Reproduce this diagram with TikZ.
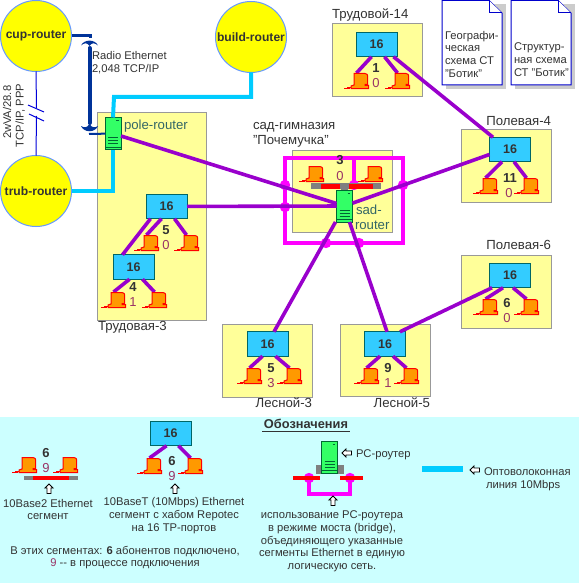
\documentclass[tikz,border=0pt]{standalone}
\usepackage{fontspec}
\setmainfont{Liberation Sans}
\definecolor{yel}{HTML}{FFFF99}
\definecolor{circ}{HTML}{FFFF00}
\definecolor{circline}{HTML}{6699FF}
\definecolor{frame}{HTML}{999999}
\definecolor{hubfill}{HTML}{33CCFF}
\definecolor{hubline}{HTML}{006666}
\definecolor{purp}{HTML}{9900CC}
\definecolor{magent}{HTML}{FF00FF}
\definecolor{cyanl}{HTML}{00CCFF}
\definecolor{radio}{HTML}{003399}
\definecolor{rout}{HTML}{33FF66}
\definecolor{routl}{HTML}{006633}
\definecolor{pcor}{HTML}{FF9900}
\definecolor{txt}{HTML}{333333}
\definecolor{teal2}{HTML}{336666}
\definecolor{wine}{HTML}{993366}
\definecolor{legend}{HTML}{CCFFFF}
\definecolor{gr}{HTML}{808080}
\newcommand{\fsn}{\fontsize{11.2}{12.7}\selectfont}
\tikzset{
  every node/.style={inner sep=0pt,outer sep=0pt},
  lbl/.style={text=txt,font=\fsn,text height=8pt,text depth=2pt},
  big/.style={lbl,font=\fontsize{13.2}{15}\selectfont},
  lblc/.style={text=txt,font=\fsn,align=center},
  rlabel/.style={lbl,text=teal2,font=\fontsize{13.2}{15}\selectfont},
  area/.style={draw=frame,fill=yel,line width=1pt},
  rcircle/.style={circle,draw=circline,fill=circ,line width=1pt,minimum size=71pt,font=\bfseries\fontsize{12.1}{14}\selectfont,text=txt},
  hubbox/.style={draw=hubline,fill=hubfill,line width=1pt,minimum width=41pt,minimum height=24.5pt,font=\bfseries\fontsize{12.5}{14}\selectfont,text=txt},
  routerbox/.style={draw=routl,fill=rout,line width=1pt,minimum width=16pt,minimum height=32pt},
  pcbox/.style={minimum width=25pt,minimum height=16pt},
  net/.style={draw=purp,line width=3.6pt},
  fiber/.style={draw=cyanl,line width=4pt},
  bridge/.style={draw=magent,line width=4pt},
  junction/.style={fill=magent},
  nA/.style={text=txt,font=\bfseries\fontsize{13}{15}\selectfont},
  nB/.style={text=wine,font=\fontsize{13}{15}\selectfont},
  docpage/.style={draw=blue!80!black,fill=white,line width=1pt},
  arrowup/.style={draw=black,fill=white,line width=.9pt},
}
% PC anchor node: name, left, top
\newcommand{\pcat}[3]{\node[pcbox] (#1) at (#2+12.5,#3+8) {};}
% PC icon: left, top
\newcommand{\pcicon}[2]{%
  \begin{scope}[shift={(#1,#2)}]
    \draw[red,line width=1pt] (0,15.5) -- (6,15.5) (3,14.5) -- (7,14.5);
    \draw[red,line width=1pt,fill=pcor] (7,15.7) -- (7,13) -- (10,12) -- (10,.5) -- (21,.5) .. controls (23,.5) and (23.7,2) .. (23.7,3) -- (23.7,11.5) -- (21,11.5) -- (21,12.5) -- (24.7,12.5) -- (24.7,15.7) -- cycle;
  \end{scope}}
% router with its front panel: name, centre x, centre y
\newcommand{\routerat}[3]{%
  \node[routerbox] (#1) at (#2,#3) {};
  \begin{scope}[shift={(#2,#3)}]
    \draw[routl,line width=.8pt] (3,-13) -- (5.5,-13) (-5,4) -- (5,4) (-5,7) -- (5,7) (-5,10) -- (5,10) (-8,13.5) -- (8,13.5);
  \end{scope}}
% hollow arrows: x, y centre
\newcommand{\upar}[2]{\draw[arrowup,shift={(#1,#2)}] (0,-5) -- (4,-1) -- (2,-1) -- (2,4.5) -- (-2,4.5) -- (-2,-1) -- (-4,-1) -- cycle;}
\newcommand{\leftar}[2]{\draw[arrowup,shift={(#1,#2)}] (-5,0) -- (-1,-4) -- (-1,-2) -- (4.5,-2) -- (4.5,2) -- (-1,2) -- (-1,4) -- cycle;}
\begin{document}
\begin{tikzpicture}[x=1pt,y=-1pt]
\useasboundingbox (0,0) rectangle (579,583);
\fill[white] (0,0) rectangle (579,583);
\fill[legend] (0,417) rectangle (579,583);
% areas
\draw[area] (97,113) rectangle (206,320);
\draw[area] (332,24) rectangle (422,97);
\draw[area] (461,129) rectangle (551,202);
\draw[area] (461,255) rectangle (551,328);
\draw[area] (340,324) rectangle (430,396);
\draw[area] (222,324) rectangle (312,397);
\draw[area] (292,150) rectangle (392,232);
% bridge frame of the school
\draw[bridge] (285,158) rectangle (403,243);
\draw[bridge] (354,158) -- (354,186);
\foreach \p in {(285,185),(285,207),(354,185),(403,185),(326,243),(359,243)}
  \fill[junction] \p circle (5.2);
% routers as circles
\node[rcircle] (cup) at (36,36) {cup-router};
\node[rcircle] (build) at (251,37) {build-router};
\node[rcircle] (trub) at (36,191) {trub-router};
% hubs
\node[hubbox] (hT14) at (376.5,44.5) {16};
\node[hubbox] (hP4) at (510,149.5) {16};
\node[hubbox] (hP6) at (510,275.5) {16};
\node[hubbox] (hL5) at (385,344) {16};
\node[hubbox] (hL3) at (267.5,344) {16};
\node[hubbox] (hT3) at (166.5,206.5) {16};
\node[hubbox] (hT3b) at (133.5,267) {16};
% routers
\routerat{pole}{113}{133.5}
% coax segment in the school
\fill[gr] (311,183) rectangle (381,189);
\fill[gr] (341,189) rectangle (348,192);
\fill[red] (321,184) rectangle (340,189);
\fill[red] (349,184) rectangle (373,189);
\routerat{sad}{344.5}{206}
% PC anchors
\pcat{pT14a}{344}{73}\pcat{pT14b}{385}{73}
\pcat{pP4a}{473}{178}\pcat{pP4b}{514}{178}
\pcat{pP6a}{473}{299}\pcat{pP6b}{514}{299}
\pcat{pL5a}{354}{368}\pcat{pL5b}{394}{368}
\pcat{pL3a}{237}{368}\pcat{pL3b}{277}{368}
\pcat{pT3a}{134}{235}\pcat{pT3b}{174}{235}
\pcat{pT3c}{101}{292}\pcat{pT3d}{142}{292}
% purple connectors
\draw[net] (pole) -- (sad);
\draw[net] (hT3) -- (sad);
\draw[net] (sad) -- ([yshift=-5pt]hP4.west);
\draw[net] ([xshift=17pt]hT14.south) -- ([xshift=-17pt]hP4.north);
\draw[net] ([xshift=-9pt]sad.south) -- ([xshift=6.5pt]hL3.north);
\draw[net] ([xshift=5pt]sad.south) -- ([xshift=2pt]hL5.north);
\draw[net] ([xshift=15pt]hL5.north) -- ([xshift=-18pt]hP6.south);
\draw[net] ([xshift=-5pt]hT14.south) -- ([yshift=8pt]pT14a.center);
\draw[net] ([xshift=8pt]hT14.south) -- ([yshift=8pt]pT14b.center);
\draw[net] ([xshift=-8pt]hP4.south) -- ([yshift=8pt]pP4a.center);
\draw[net] ([xshift=4pt]hP4.south) -- ([yshift=8pt]pP4b.center);
\draw[net] ([xshift=-7pt]hP6.south) -- ([yshift=8pt]pP6a.center);
\draw[net] ([xshift=3pt]hP6.south) -- ([yshift=8pt]pP6b.center);
\draw[net] ([xshift=-5pt]hL5.south) -- ([yshift=8pt]pL5a.center);
\draw[net] ([xshift=8pt]hL5.south) -- ([yshift=8pt]pL5b.center);
\draw[net] ([xshift=-5pt]hL3.south) -- ([yshift=8pt]pL3a.center);
\draw[net] ([xshift=8pt]hL3.south) -- ([yshift=8pt]pL3b.center);
\draw[net] ([xshift=-16pt]hT3.south) -- ([xshift=-11pt]hT3b.north);
\draw[net] ([xshift=-5pt]hT3.south) -- ([yshift=8pt]pT3a.center);
\draw[net] ([xshift=8pt]hT3.south) -- ([yshift=8pt]pT3b.center);
\draw[net] ([xshift=-4pt]hT3b.south) -- ([yshift=8pt]pT3c.center);
\draw[net] ([xshift=9pt]hT3b.south) -- ([yshift=8pt]pT3d.center);
% PC icons above their connectors
\foreach \a/\b in {344/73,385/73,473/178,514/178,473/299,514/299,354/368,394/368,237/368,277/368,134/235,174/235,101/292,142/292,299/166,358/166}
  {\pcicon{\a}{\b}}
% fibre
\draw[fiber] (build.south) |- (114,97) -- (pole.north);
\draw[fiber] (trub.east) -| (pole.south);
% radio link
\coordinate (dishT) at (90,38);
\coordinate (dishB) at (89,134);
\draw[radio,line width=3pt] (cup.east) -| (dishT);
\fill[radio] (81,45.5) .. controls (84,39) and (95,39) .. (98,45.5) .. controls (95,43) and (92,42) .. (89.5,46) .. controls (87,42) and (84,43) .. (81,45.5) -- cycle;
\draw[radio,line width=4pt,line cap=round] (89.5,48) -- (89.5,123);
\fill[radio] (81,126) .. controls (84,128) and (87,128) .. (89.5,124) .. controls (92,128) and (95,128) .. (98,126) .. controls (95,133) and (84,133) .. (81,126) -- cycle;
\draw[radio,line width=2pt] (dishB) -- (pole);
% modem line
\coordinate (brkA) at (36.5,108);
\coordinate (brkB) at (36.5,116);
\draw[blue!85!black,line width=1pt] (cup.south) -- (brkA) (brkB) -- (trub.north);
\draw[blue!85!black,line width=1pt] (28,105) -- (44,112) (29,114) -- (44,121);
% documents
\fill[black!20] (446,4) rectangle (506,89);
\draw[docpage] (442,0.5) -- (489,0.5) -- (502,13) -- (502,85) -- (442,85) -- cycle;
\draw[docpage] (489,0.5) -- (489,13) -- (502,13);
\fill[black!20] (515,4) rectangle (575,89);
\draw[docpage] (511,0.5) -- (558,0.5) -- (571,13) -- (571,85) -- (511,85) -- cycle;
\draw[docpage] (558,0.5) -- (558,13) -- (571,13);
% labels
\node[lbl,anchor=west,rotate=90] (lModemA) at (8,139) {2wVA/28.8};
\node[lbl,anchor=west,rotate=90] (lModemB) at (20.5,147) {TCP/IP, PPP};
\node[lbl,anchor=west] (lRadioA) at (92,57) {Radio Ethernet};
\node[lbl,anchor=west] (lRadioB) at (92,70) {2,048 TCP/IP};
\node[rlabel,anchor=west] (lPole) at (124,126) {pole-router};
\node[big,anchor=west] (lSchA) at (253,126) {сад-гимназия};
\node[big,anchor=west] (lSchB) at (253,141) {"Почемучка"};
\node[rlabel,anchor=west] (lSadA) at (356,211) {sad-};
\node[rlabel,anchor=west] (lSadB) at (355,226) {router};
\node[big,anchor=west] (lT14) at (332,16) {Трудовой-14};
\node[big,anchor=east] (lP4) at (551,122) {Полевая-4};
\node[big,anchor=east] (lP6) at (551,246) {Полевая-6};
\node[big,anchor=east] (lL5) at (430,404) {Лесной-5};
\node[big,anchor=east] (lL3) at (312,404) {Лесной-3};
\node[big,anchor=west] (lT3) at (98,327) {Трудовая-3};
\node[lblc,align=left,anchor=north west] (lDocA) at (445,31) {Географи-\\ческая\\схема СТ\\"Ботик"};
\node[lblc,align=left,anchor=north west] (lDocB) at (514,43) {Структур-\\ная схема\\СТ "Ботик"};
% numbers
\node[nA] (n1a) at (376,68) {1};\node[nB] (n1b) at (376,83) {0};
\node[nA] (n2a) at (510,178) {11};\node[nB] (n2b) at (509,193) {0};
\node[nA] (n3a) at (507,303) {6};\node[nB] (n3b) at (507,318) {0};
\node[nA] (n4a) at (388,368) {9};\node[nB] (n4b) at (388,383) {1};
\node[nA] (n5a) at (271,368) {5};\node[nB] (n5b) at (271,383) {3};
\node[nA] (n6a) at (166,230) {5};\node[nB] (n6b) at (166,245) {0};
\node[nA] (n7a) at (133,287) {4};\node[nB] (n7b) at (133,302) {1};
\node[nA] (n8a) at (340,160) {3};\node[nB] (n8b) at (340,176) {0};
% ---- legend
\node[text=txt,font=\bfseries\fontsize{12.8}{14}\selectfont] (lTitle) at (306,424) {Обозначения};
\draw[txt,line width=1pt] (262,431) -- (350,431);
% item 1
\fill[gr] (24,476) rectangle (78,480);
\fill[red] (33,476) rectangle (69,480);
\pcicon{12}{457}\pcicon{53}{457}
\node[nA] (n9a) at (46,453) {6};\node[nB] (n9b) at (46,468) {9};
\upar{49}{489}
\node[lblc] (lItemA) at (48,509.5) {10Base2 Ethernet\\сегмент};
% item 2
\node[hubbox] (hLeg) at (170.5,433.5) {16};
\pcat{pLc}{137}{458}\pcat{pLd}{178}{458}
\draw[net] ([xshift=-4pt]hLeg.south) -- ([yshift=8pt]pLc.center);
\draw[net] ([xshift=8pt]hLeg.south) -- ([yshift=8pt]pLd.center);
\pcicon{137}{458}\pcicon{178}{458}
\node[nA] (n10a) at (172,461) {6};\node[nB] (n10b) at (172,476) {9};
\upar{175}{489}
\node[lblc] (lItemB) at (174,515.5) {10BaseT (10Mbps) Ethernet\\сегмент с хабом Repotec\\на 16 ТР-портов};
\node[lblc] (lItemC) at (125,557.5) {В этих сегментах: \textbf{6} абонентов подключено,\\\textcolor{wine}{9} -{}- в процессе подключения};
% item 3
\fill[gr] (316,465) rectangle (344,474);
\routerat{rLeg}{329.5}{457}
\draw[bridge] (309,478) -- (309,494) -- (350,494) -- (350,478);
\fill[junction] (309,478) circle (5.2);
\fill[junction] (350,478) circle (5.2);
\fill[red] (293,476) rectangle (320,480);
\fill[red] (340,476) rectangle (363,480);
\leftar{347}{453}
\node[lbl,anchor=west] (lPC) at (356,454) {PC-роутер};
\upar{333}{501}
\node[lblc] (lItemD) at (332,541.5) {использование PC-роутера\\в режиме моста (bridge),\\объединяющего указанные\\сегменты Ethernet в единую\\логическую сеть.};
% item 4
\coordinate (fibA) at (422,469);
\coordinate (fibB) at (463,469);
\draw[draw=cyanl,line width=6pt] (fibA) -- (fibB);
\leftar{475}{470}
\node[lbl,anchor=west] (lFibA) at (484,472) {Оптоволоконная};
\node[lbl,anchor=west] (lFibB) at (486,485) {линия 10Mbps};
\end{tikzpicture}
\end{document}
